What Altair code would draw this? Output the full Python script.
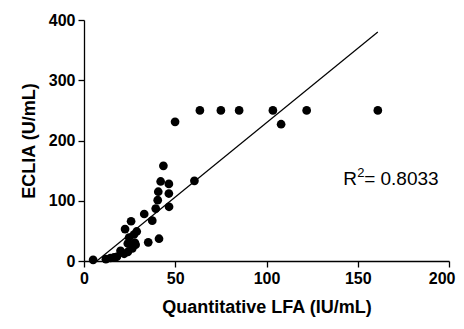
import altair as alt
import pandas as pd

# Scatter data (Quantitative LFA vs ECLIA)
lfa = [5, 12, 14.5, 16.5, 18, 20, 22, 24, 26.5, 28.3, 24, 27.9, 22.5, 28.9, 24.7, 27.4,
       25.8, 33, 35.2, 37.4, 41.1, 39.3, 40.4, 40.7, 42, 43.5, 46.5, 46.5, 46.6,
       49.9, 60.5, 63.5, 75, 85, 103.5, 108, 122, 161]
eclia = [2, 3, 5, 6, 7, 17, 12, 15, 21, 27, 29, 30, 53, 49, 39, 44,
         66, 78, 31, 67, 37, 87, 101, 115, 132, 158, 128, 112, 90,
         231, 133, 250, 250, 250, 250, 227, 250, 250]

# Regression line endpoints
fit_x = [7, 161]
fit_y = [0, 380]

r2_x = [142]
r2_y = [137]

FONT = "Liberation Sans"

pts = pd.DataFrame({"x": lfa, "y": eclia})
fit = pd.DataFrame({"x": fit_x, "y": fit_y})
lab = pd.DataFrame({"x": r2_x, "y": r2_y})

xscale = alt.Scale(domain=[0, 200], nice=False)
yscale = alt.Scale(domain=[0, 400], nice=False)

xaxis = alt.Axis(values=[0, 50, 100, 150, 200], title="Quantitative LFA (IU/mL)",
                 grid=False, domainColor="black", domainWidth=1.3, tickColor="black",
                 tickWidth=1.3, tickSize=6, labelFont=FONT, labelFontSize=16,
                 labelFontWeight="bold", labelColor="black", labelPadding=3,
                 labelFlush=False, labelOverlap=False,
                 labelAlign={"condition": {"test": "datum.value == 200", "value": "right"},
                             "value": "center"},
                 labelOffset={"condition": {"test": "datum.value == 200", "value": 6},
                              "value": 0},
                 titleFont=FONT, titleFontSize=18, titleFontWeight="bold",
                 titleColor="black", titlePadding=12)
yaxis = alt.Axis(values=[0, 100, 200, 300, 400], title="ECLIA (U/mL)",
                 grid=False, domainColor="black", domainWidth=1.3, tickColor="black",
                 tickWidth=1.3, tickSize=6, labelFont=FONT, labelFontSize=16,
                 labelFontWeight="bold", labelColor="black", labelPadding=3,
                 titleFont=FONT, titleFontSize=18, titleFontWeight="bold",
                 titleColor="black", titlePadding=10)

points = alt.Chart(pts).mark_circle(size=76, color="black", opacity=1).encode(
    x=alt.X("x:Q", scale=xscale, axis=xaxis),
    y=alt.Y("y:Q", scale=yscale, axis=yaxis),
)

line = alt.Chart(fit).mark_line(color="black", strokeWidth=1.2).encode(
    x=alt.X("x:Q", scale=xscale),
    y=alt.Y("y:Q", scale=yscale),
)

enc = dict(x=alt.X("x:Q", scale=xscale), y=alt.Y("y:Q", scale=yscale))
t_r = alt.Chart(lab).mark_text(align="left", baseline="alphabetic", font=FONT,
                               fontSize=19, color="black", text="R", dy=7).encode(**enc)
t_2 = alt.Chart(lab).mark_text(align="left", baseline="alphabetic", font=FONT,
                               fontSize=13, color="black", text="2", dx=14, dy=-1).encode(**enc)
t_v = alt.Chart(lab).mark_text(align="left", baseline="alphabetic", font=FONT,
                               fontSize=19, color="black", text="= 0.8033", dx=21, dy=7).encode(**enc)

chart = alt.layer(line, points, t_r, t_2, t_v).properties(
    width=365, height=241,
    autosize=alt.AutoSizeParams(type="none"),
    padding={"left": 76, "top": 12, "right": 7, "bottom": 56},
).configure_view(stroke=None)

chart.save("out.html", embed_options={"renderer": "svg", "actions": False})
